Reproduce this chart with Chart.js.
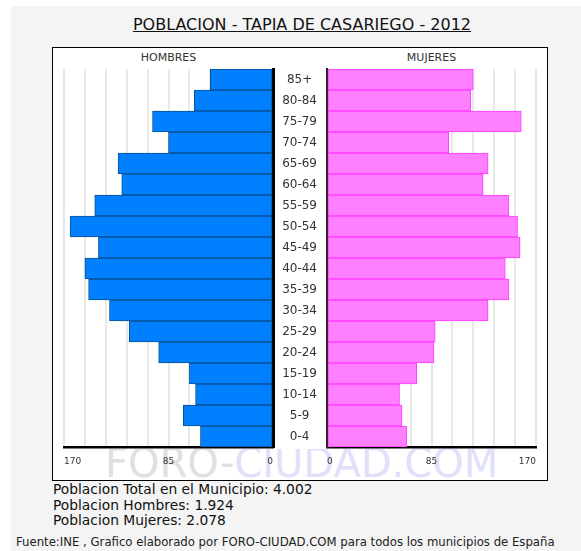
<!DOCTYPE html>
<html>
<head>
<meta charset="utf-8">
<script src="https://cdn.jsdelivr.net/npm/chart.js@4"></script>
<style>
body { margin:0; width:581px; height:551px; position:relative; overflow:hidden; background:#fff; font-family:"DejaVu Sans", sans-serif; }
#fondo { position:absolute; left:11px; top:6px; right:0; bottom:0; background:#f4f4f4; }
#titulo { position:absolute; left:102px; width:400px; top:15px; line-height:19px; text-align:center; font-size:16px; color:#111; text-decoration:underline; white-space:nowrap; }
#marco { position:absolute; left:52px; top:47px; width:494px; height:432px; border:1px solid #000; background:#fff; }
#marca { position:absolute; left:53px; top:449px; width:493px; height:31px; overflow:hidden; }
#marca div { position:absolute; left:52px; top:-6px; font-size:40px; line-height:40px; white-space:nowrap; }
.lado { position:absolute; top:51.4px; width:200px; margin-left:-100px; text-align:center; font-size:11px; line-height:13px; color:#333; }
canvas { position:absolute; }
#resumen { position:absolute; left:53px; top:482px; font-size:13.8px; line-height:15.5px; color:#111; white-space:nowrap; }
#fuente { position:absolute; left:16px; top:536px; font-size:11.7px; line-height:13px; color:#222; white-space:nowrap; }
</style>
</head>
<body>
<div id="fondo"></div>
<div id="titulo">POBLACION - TAPIA DE CASARIEGO - 2012</div>
<div id="marco"></div>
<div id="marca"><div><span style="color:#e0e0e0">FORO-</span><span style="color:#e0e0fa">CIUDAD.COM</span></div></div>
<div class="lado" style="left:168.5px">HOMBRES</div>
<div class="lado" style="left:431.5px">MUJERES</div>
<canvas id="izq" width="224" height="431" style="left:53px;top:48px"></canvas>
<canvas id="der" width="271" height="431" style="left:275px;top:48px"></canvas>
<div id="resumen">Poblacion Total en el Municipio: 4.002<br>Poblacion Hombres: 1.924<br>Poblacion Mujeres: 2.078</div>
<div id="fuente">Fuente:INE , Grafico elaborado por FORO-CIUDAD.COM para todos los municipios de España</div>
<script>
const grupos = ['85+', '80-84', '75-79', '70-74', '65-69', '60-64', '55-59', '50-54', '45-49',
                '40-44', '35-39', '30-34', '25-29', '20-24', '15-19', '10-14', '5-9', '0-4'];
const hombres = [51, 64, 98, 85, 126, 123, 145, 165, 142, 153, 150, 133, 117, 93, 68, 63, 73, 59];
const mujeres = [119, 117, 158, 99, 131, 127, 148, 155, 157, 145, 148, 131, 88, 87, 73, 59, 61, 65];
const ejeMax = 170;
const ejePaso = 17;
const ejeEtiquetas = [0, 85, 170];

const fuente = 'DejaVu Sans';

// eje x comun; los hombres van en negativo para crecer hacia la izquierda
function ejeX(min, max) {
    return {
        min: min,
        max: max,
        ticks: {
            stepSize: ejePaso,
            autoSkip: false,
            maxRotation: 0,
            align: 'inner',
            padding: 9,
            color: '#333',
            font: { family: fuente, size: 9 },
            callback: v => ejeEtiquetas.includes(Math.abs(v)) ? String(Math.abs(v)) : ''
        },
        grid: { color: '#e8e8e8', lineWidth: 2, drawTicks: false },
        border: { color: '#000', width: 2.5 },
        afterFit: s => { s.height = 32; s.paddingLeft = 0; s.paddingRight = 0; }
    };
}

function dataset(valores, fondo, borde) {
    return {
        data: valores,
        backgroundColor: fondo,
        borderColor: borde,
        borderWidth: 1,
        borderSkipped: false,
        barPercentage: 1,
        categoryPercentage: 1
    };
}

const comunes = {
    indexAxis: 'y',
    responsive: false,
    animation: false,
    devicePixelRatio: 1,
    plugins: { legend: { display: false }, tooltip: { enabled: false } }
};

// Hombres (izquierda)
new Chart(document.getElementById('izq'), {
    type: 'bar',
    data: { labels: grupos, datasets: [dataset(hombres.map(v => -v), '#0080ff', '#0a4f94')] },
    options: {
        ...comunes,
        layout: { padding: { left: 11, top: 21, right: 4, bottom: 0 } },
        scales: {
            x: ejeX(-ejeMax, 0),
            y: {
                position: 'right',
                ticks: { display: false },
                grid: { display: false, drawTicks: false },
                border: { color: '#000', width: 3 },
                afterFit: s => { s.width = 0; s.paddingTop = 0; s.paddingBottom = 0; }
            }
        }
    }
});

// Mujeres (derecha) con las edades en el centro
new Chart(document.getElementById('der'), {
    type: 'bar',
    data: { labels: grupos, datasets: [dataset(mujeres, '#ff80ff', '#ff3cff')] },
    options: {
        ...comunes,
        layout: { padding: { left: 0, top: 21, right: 10, bottom: 0 } },
        scales: {
            x: ejeX(0, ejeMax),
            y: {
                position: 'left',
                ticks: { padding: 10, crossAlign: 'center', color: '#333', font: { family: fuente, size: 12 } },
                grid: { display: false, drawTicks: false },
                border: { color: '#222', width: 2 },
                afterFit: s => { s.width = 52; s.paddingTop = 0; s.paddingBottom = 0; }
            }
        }
    }
});
</script>
</body>
</html>
